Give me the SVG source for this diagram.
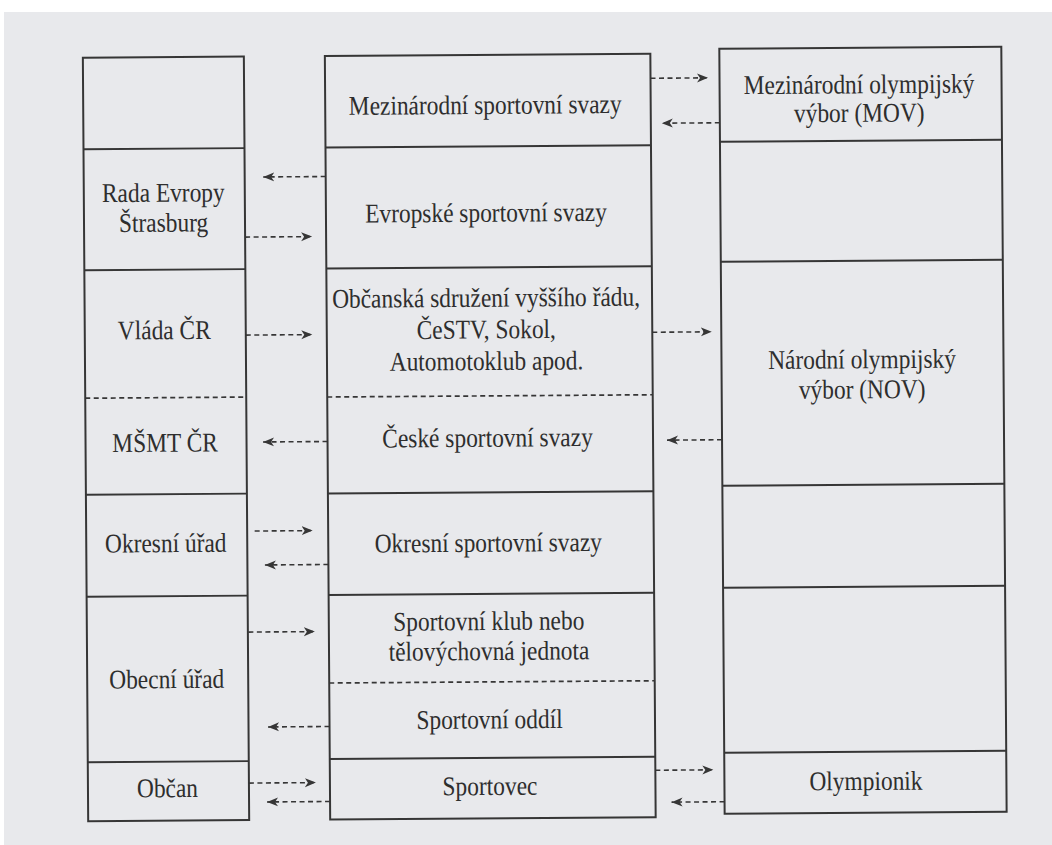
<svg xmlns="http://www.w3.org/2000/svg" width="1052" height="845" viewBox="0 0 1052 845">
<style>
.bx{fill:none;stroke:#363636;stroke-width:2}
.dv{stroke:#363636;stroke-width:1.9}
.dd{stroke:#363636;stroke-width:1.7;stroke-dasharray:5 3.5}
.ar{stroke:#363636;stroke-width:1.6;stroke-dasharray:5 3.5;fill:none}
.t{font-size:27px;fill:#2e2e2e;text-anchor:middle}
</style>
<defs>
<marker id="ah" markerUnits="userSpaceOnUse" markerWidth="12" markerHeight="10" refX="11" refY="5" orient="auto"><path d="M0,0.5 L11,5 L0,9.5 L3,5 z" fill="#363636"/></marker>
</defs>
<rect x="0" y="0" width="1052" height="845" fill="#ffffff"/>
<rect x="4" y="12" width="1048" height="833" fill="#e8e9ec"/>
<g transform="rotate(-0.4 545 435)" font-family="'Liberation Serif', 'Times New Roman', 'DejaVu Serif', serif">
<g id="left-column">
<rect class="bx" x="85.5" y="54.5" width="161" height="763.5"/>
<line class="dv" x1="85.5" y1="146" x2="246.5" y2="146"/>
<line class="dv" x1="85.5" y1="267" x2="246.5" y2="267"/>
<line class="dd" x1="85.5" y1="395" x2="246.5" y2="395"/>
<line class="dv" x1="85.5" y1="491.5" x2="246.5" y2="491.5"/>
<line class="dv" x1="85.5" y1="593.5" x2="246.5" y2="593.5"/>
<line class="dv" x1="85.5" y1="759" x2="246.5" y2="759"/>
<g id="rada-evropy"><text class="t" font-family="'Liberation Serif', serif" transform="translate(165 199) scale(0.867 1)">Rada Evropy</text><text class="t" font-family="'Liberation Serif', serif" transform="translate(165 229) scale(0.867 1)">Štrasburg</text></g>
<g id="vlada-cr"><text class="t" font-family="'Liberation Serif', serif" transform="translate(165 336.5) scale(0.867 1)">Vláda ČR</text></g>
<g id="msmt-cr"><text class="t" font-family="'Liberation Serif', serif" transform="translate(165 449) scale(0.867 1)">MŠMT ČR</text></g>
<g id="okresni-urad"><text class="t" font-family="'Liberation Serif', serif" transform="translate(165 549.5) scale(0.867 1)">Okresní úřad</text></g>
<g id="obecni-urad"><text class="t" font-family="'Liberation Serif', serif" transform="translate(165 685.5) scale(0.867 1)">Obecní úřad</text></g>
<g id="obcan"><text class="t" font-family="'Liberation Serif', serif" transform="translate(165 794.5) scale(0.867 1)">Občan</text></g>
</g>
<g id="middle-column">
<rect class="bx" x="327.5" y="54.5" width="325.5" height="763.5"/>
<line class="dv" x1="327.5" y1="146" x2="653" y2="146"/>
<line class="dv" x1="327.5" y1="267" x2="653" y2="267"/>
<line class="dd" x1="327.5" y1="395.5" x2="653" y2="395.5"/>
<line class="dv" x1="327.5" y1="492" x2="653" y2="492"/>
<line class="dv" x1="327.5" y1="593.5" x2="653" y2="593.5"/>
<line class="dd" x1="327.5" y1="681.5" x2="653" y2="681.5"/>
<line class="dv" x1="327.5" y1="757.5" x2="653" y2="757.5"/>
<g id="mezinarodni-sportovni-svazy"><text class="t" font-family="'Liberation Serif', serif" transform="translate(487.5 113.5) scale(0.867 1)">Mezinárodní sportovní svazy</text></g>
<g id="evropske-sportovni-svazy"><text class="t" font-family="'Liberation Serif', serif" transform="translate(487.5 221.3) scale(0.867 1)">Evropské sportovní svazy</text></g>
<g id="obcanska-sdruzeni"><text class="t" font-family="'Liberation Serif', serif" transform="translate(487 306.3) scale(0.867 1)">Občanská sdružení vyššího řádu,</text><text class="t" font-family="'Liberation Serif', serif" transform="translate(487 338) scale(0.867 1)">ČeSTV, Sokol,</text><text class="t" font-family="'Liberation Serif', serif" transform="translate(487 369.6) scale(0.867 1)">Automotoklub apod.</text></g>
<g id="ceske-sportovni-svazy"><text class="t" font-family="'Liberation Serif', serif" transform="translate(487.5 446.3) scale(0.867 1)">České sportovní svazy</text></g>
<g id="okresni-sportovni-svazy"><text class="t" font-family="'Liberation Serif', serif" transform="translate(487.5 551.3) scale(0.867 1)">Okresní sportovní svazy</text></g>
<g id="sportovni-klub"><text class="t" font-family="'Liberation Serif', serif" transform="translate(487.5 629.6) scale(0.867 1)">Sportovní klub nebo</text><text class="t" font-family="'Liberation Serif', serif" transform="translate(487.5 659.6) scale(0.867 1)">tělovýchovná jednota</text></g>
<g id="sportovni-oddil"><text class="t" font-family="'Liberation Serif', serif" transform="translate(487.5 728) scale(0.867 1)">Sportovní oddíl</text></g>
<g id="sportovec"><text class="t" font-family="'Liberation Serif', serif" transform="translate(487.5 794.6) scale(0.867 1)">Sportovec</text></g>
</g>
<g id="right-column">
<rect class="bx" x="722" y="50" width="282" height="765"/>
<line class="dv" x1="722" y1="143" x2="1004" y2="143"/>
<line class="dv" x1="722" y1="263" x2="1004" y2="263"/>
<line class="dv" x1="722" y1="487" x2="1004" y2="487"/>
<line class="dv" x1="722" y1="589" x2="1004" y2="589"/>
<line class="dv" x1="722" y1="754" x2="1004" y2="754"/>
<g id="mov"><text class="t" font-family="'Liberation Serif', serif" transform="translate(861.5 95.5) scale(0.867 1)">Mezinárodní olympijský</text><text class="t" font-family="'Liberation Serif', serif" transform="translate(861.5 124) scale(0.867 1)">výbor (MOV)</text></g>
<g id="nov"><text class="t" font-family="'Liberation Serif', serif" transform="translate(862.5 370.5) scale(0.867 1)">Národní olympijský</text><text class="t" font-family="'Liberation Serif', serif" transform="translate(862.5 400.5) scale(0.867 1)">výbor (NOV)</text></g>
<g id="olympionik"><text class="t" font-family="'Liberation Serif', serif" transform="translate(863.5 792.2) scale(0.867 1)">Olympionik</text></g>
</g>
<g id="connectors">
<line class="ar" marker-end="url(#ah)" x1="327.5" y1="175" x2="265" y2="175"/>
<line class="ar" marker-end="url(#ah)" x1="246.5" y1="235" x2="313.5" y2="235"/>
<line class="ar" marker-end="url(#ah)" x1="246.5" y1="333" x2="313" y2="333"/>
<line class="ar" marker-end="url(#ah)" x1="327.5" y1="440" x2="263" y2="440"/>
<line class="ar" marker-end="url(#ah)" x1="254" y1="529" x2="312" y2="529"/>
<line class="ar" marker-end="url(#ah)" x1="327.5" y1="563" x2="264" y2="563"/>
<line class="ar" marker-end="url(#ah)" x1="247" y1="630" x2="313.5" y2="630"/>
<line class="ar" marker-end="url(#ah)" x1="327.5" y1="725" x2="266" y2="725"/>
<line class="ar" marker-end="url(#ah)" x1="246.5" y1="781" x2="313.5" y2="781"/>
<line class="ar" marker-end="url(#ah)" x1="327.5" y1="800" x2="264.5" y2="800"/>
<line class="ar" marker-end="url(#ah)" x1="653" y1="79" x2="710.5" y2="79"/>
<line class="ar" marker-end="url(#ah)" x1="722" y1="124" x2="664" y2="124"/>
<line class="ar" marker-end="url(#ah)" x1="653" y1="333" x2="712.5" y2="333"/>
<line class="ar" marker-end="url(#ah)" x1="722" y1="441" x2="667" y2="441"/>
<line class="ar" marker-end="url(#ah)" x1="653" y1="771" x2="711" y2="771"/>
<line class="ar" marker-end="url(#ah)" x1="722" y1="803" x2="669" y2="803"/>
</g>
</g>
</svg>
